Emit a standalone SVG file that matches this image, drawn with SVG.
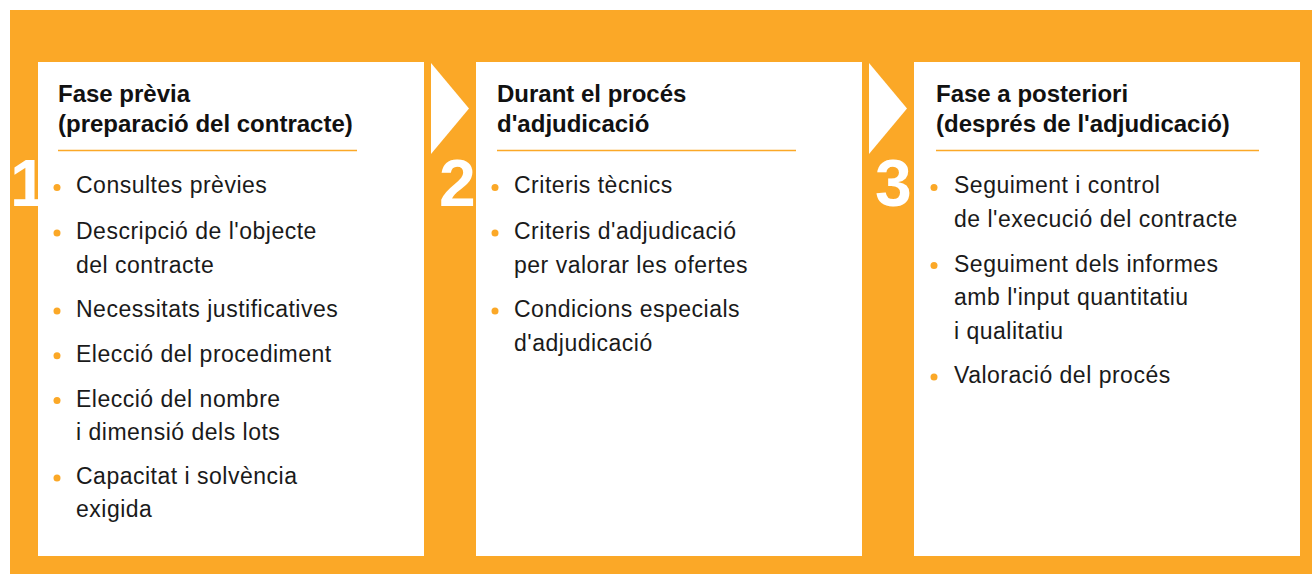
<svg xmlns="http://www.w3.org/2000/svg" width="1312" height="574" viewBox="0 0 1312 574">
<style>
.bg{fill:#FBA827}
.panel{fill:#ffffff}
.arrow{fill:#ffffff}
.num{font-family:"Liberation Sans",Arial,sans-serif;font-weight:bold;font-size:66px;fill:#ffffff}
.head{font-family:"Liberation Sans",Arial,sans-serif;font-weight:bold;font-size:24px;fill:#111111}
.item{font-family:"Liberation Sans",Arial,sans-serif;font-size:23px;letter-spacing:0.5px;fill:#1a1a1a}
.rule{stroke:#FBA827;stroke-width:1.5}
.dot{fill:#FBA827}
</style>
<rect class="bg" x="10" y="10" width="1302" height="564"/>
<g id="connectors">
<polygon class="arrow" points="431,63 469,108.5 431,154"/>
<polygon class="arrow" points="869,63 907,108.5 869,154"/>
</g>
<g id="phase1">
<rect class="panel" x="38" y="62" width="386" height="494"/>
<text class="num" x="10" y="206">1</text>
<text class="head" x="58" y="102">Fase prèvia</text>
<text class="head" x="58" y="132">(preparació del contracte)</text>
<line class="rule" x1="58" y1="150.5" x2="357" y2="150.5"/>
<circle class="dot" cx="57" cy="187.5" r="3.5"/>
<text class="item" x="76" y="193.3">Consultes prèvies</text>
<circle class="dot" cx="57" cy="233" r="3.5"/>
<text class="item" x="76" y="239">Descripció de l'objecte</text>
<text class="item" x="76" y="272.5">del contracte</text>
<circle class="dot" cx="57" cy="311" r="3.5"/>
<text class="item" x="76" y="317">Necessitats justificatives</text>
<circle class="dot" cx="57" cy="355.7" r="3.5"/>
<text class="item" x="76" y="361.7">Elecció del procediment</text>
<circle class="dot" cx="57" cy="400.5" r="3.5"/>
<text class="item" x="76" y="406.5">Elecció del nombre</text>
<text class="item" x="76" y="439.7">i dimensió dels lots</text>
<circle class="dot" cx="57" cy="478" r="3.5"/>
<text class="item" x="76" y="484">Capacitat i solvència</text>
<text class="item" x="76" y="517">exigida</text>
</g>
<g id="phase2">
<rect class="panel" x="476" y="62" width="386" height="494"/>
<text class="num" x="439" y="206">2</text>
<text class="head" x="497" y="102">Durant el procés</text>
<text class="head" x="497" y="132">d'adjudicació</text>
<line class="rule" x1="497" y1="150.5" x2="796" y2="150.5"/>
<circle class="dot" cx="495" cy="187.5" r="3.5"/>
<text class="item" x="514" y="193.3">Criteris tècnics</text>
<circle class="dot" cx="495" cy="233" r="3.5"/>
<text class="item" x="514" y="239">Criteris d'adjudicació</text>
<text class="item" x="514" y="272.5">per valorar les ofertes</text>
<circle class="dot" cx="495" cy="311" r="3.5"/>
<text class="item" x="514" y="317">Condicions especials</text>
<text class="item" x="514" y="350.5">d'adjudicació</text>
</g>
<g id="phase3">
<rect class="panel" x="914" y="62" width="386" height="494"/>
<text class="num" x="875" y="206">3</text>
<text class="head" x="936" y="102">Fase a posteriori</text>
<text class="head" x="936" y="132">(després de l'adjudicació)</text>
<line class="rule" x1="936" y1="150.5" x2="1259" y2="150.5"/>
<circle class="dot" cx="934" cy="187.5" r="3.5"/>
<text class="item" x="954" y="193.3">Seguiment i control</text>
<text class="item" x="954" y="227">de l'execució del contracte</text>
<circle class="dot" cx="934" cy="265.5" r="3.5"/>
<text class="item" x="954" y="271.5">Seguiment dels informes</text>
<text class="item" x="954" y="305">amb l'input quantitatiu</text>
<text class="item" x="954" y="338.5">i qualitatiu</text>
<circle class="dot" cx="934" cy="377" r="3.5"/>
<text class="item" x="954" y="383">Valoració del procés</text>
</g>
</svg>
